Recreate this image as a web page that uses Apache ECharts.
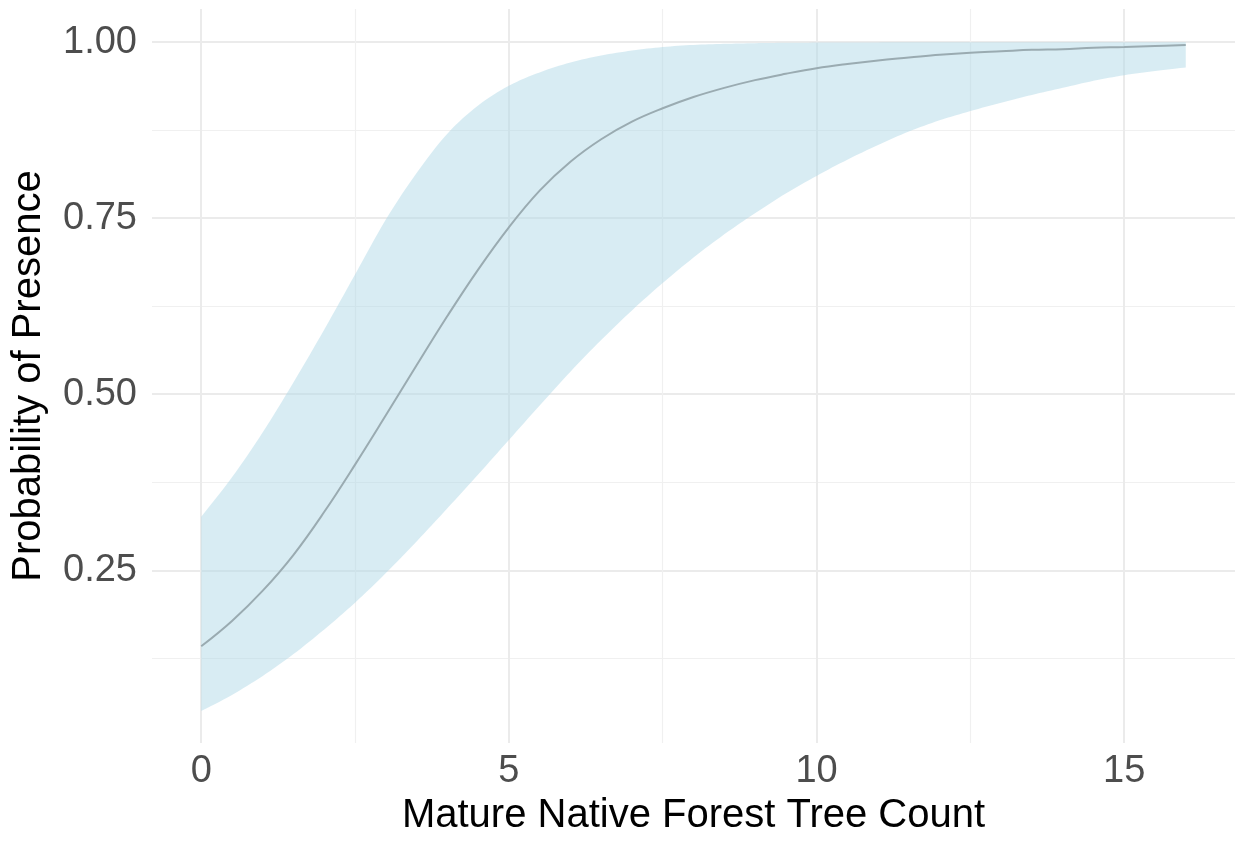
<!DOCTYPE html>
<html>
<head>
<meta charset="utf-8">
<script src="https://cdn.jsdelivr.net/npm/echarts@6/dist/echarts.min.js"></script>
<style>
html,body{margin:0;padding:0;background:#fff;}
#chart{width:1238px;height:841px;}
</style>
</head>
<body>
<div id="chart"></div>
<script>
// Data
const treeCount = [0,0.5,1,1.5,2,2.5,3,3.5,4,4.5,5,5.5,6,6.5,7,7.5,8,8.5,9,9.5,10,10.5,11,11.5,12,12.5,13,13.5,14,14.5,15,15.5,16];
const fitProb   = [0.142,0.178,0.221,0.272,0.333,0.400,0.470,0.541,0.611,0.677,0.737,0.789,0.830,0.862,0.887,0.906,0.922,0.935,0.946,0.955,0.963,0.969,0.974,0.978,0.982,0.985,0.987,0.989,0.990,0.992,0.993,0.9945,0.996];
const upperProb = [0.326,0.382,0.446,0.517,0.592,0.670,0.748,0.814,0.870,0.910,0.938,0.957,0.971,0.981,0.988,0.993,0.996,0.9975,0.9985,0.9990,0.9993,0.9995,0.9996,0.9997,0.9998,0.9998,0.9999,0.9999,0.9999,0.9999,0.9999,0.9999,0.9999];
const lowerProb = [0.050,0.073,0.100,0.131,0.166,0.204,0.246,0.291,0.338,0.386,0.435,0.484,0.532,0.577,0.619,0.658,0.694,0.727,0.757,0.785,0.810,0.833,0.854,0.873,0.889,0.902,0.914,0.925,0.935,0.945,0.953,0.959,0.964];

const xMajorTicks = [0,5,10,15];
const xMinorTicks = [2.5,7.5,12.5];
const yMajorTicks = [0.25,0.5,0.75,1.0];
const yMinorTicks = [0.125,0.375,0.625,0.875];

const xTitle = 'Mature Native Forest Tree Count';
const yTitle = 'Probability of Presence';

const FONT = 'Liberation Sans, Arial, Helvetica, sans-serif';

function spline(p) {
  const out = [];
  const n = p.length;
  for (let i = 0; i < n - 1; i++) {
    const p0 = p[i - 1] || p[i], p1 = p[i], p2 = p[i + 1], p3 = p[i + 2] || p[i + 1];
    for (let k = 0; k < 8; k++) {
      const t = k / 8, t2 = t * t, t3 = t2 * t;
      const f = (a, b, c, d) => 0.5 * (2 * b + (-a + c) * t + (2 * a - 5 * b + 4 * c - d) * t2 + (-a + 3 * b - 3 * c + d) * t3);
      out.push([f(p0[0], p1[0], p2[0], p3[0]), f(p0[1], p1[1], p2[1], p3[1])]);
    }
  }
  out.push(p[n - 1]);
  return out;
}

const chart = echarts.init(document.getElementById('chart'), null, {renderer: 'canvas'});

const commonX = {
  type: 'value', min: -0.8, max: 16.8,
  axisLine: {show: false}
};
const commonY = {
  type: 'value', min: 0.0047, max: 1.047,
  axisLine: {show: false}
};

chart.setOption({
  animation: false,
  backgroundColor: '#ffffff',
  grid: {left: 152, right: 3, top: 9, bottom: 98, containLabel: false, outerBoundsMode: 'none'},
  xAxis: [
    Object.assign({}, commonX, {
      axisTick: {show: false, customValues: xMajorTicks},
      axisLabel: {customValues: xMajorTicks, fontSize: 38, color: '#4d4d4d', fontFamily: FONT, margin: 10},
      splitLine: {show: true, lineStyle: {color: '#ebebeb', width: 2}},
      name: xTitle, nameLocation: 'middle', nameGap: 53,
      nameTextStyle: {fontSize: 40, color: '#000000', fontFamily: FONT}
    }),
    Object.assign({}, commonX, {
      axisTick: {show: false, customValues: xMinorTicks},
      axisLabel: {show: false, customValues: xMinorTicks},
      splitLine: {show: true, lineStyle: {color: '#f0f0f0', width: 1.2}}
    })
  ],
  yAxis: [
    Object.assign({}, commonY, {
      axisTick: {show: false, customValues: yMajorTicks},
      axisLabel: {customValues: yMajorTicks, fontSize: 38, color: '#4d4d4d', fontFamily: FONT, margin: 15,
        formatter: v => Number(v).toFixed(2)},
      splitLine: {show: true, lineStyle: {color: '#ebebeb', width: 2}},
      name: yTitle, nameLocation: 'middle', nameGap: 103, nameRotate: 90,
      nameTextStyle: {fontSize: 40, color: '#000000', fontFamily: FONT}
    }),
    Object.assign({}, commonY, {
      axisTick: {show: false, customValues: yMinorTicks},
      axisLabel: {show: false, customValues: yMinorTicks},
      splitLine: {show: true, lineStyle: {color: '#f0f0f0', width: 1.2}}
    })
  ],
  series: [
    {
      type: 'custom',
      name: 'ribbon',
      xAxisIndex: 0, yAxisIndex: 0,
      data: treeCount.map((x, i) => [x, lowerProb[i], upperProb[i]]),
      encode: {x: 0, y: [1, 2]},
      renderItem: function (params, api) {
        if (params.dataIndex !== 0) return {type: 'group', children: []};
        const up = treeCount.map((x, i) => api.coord([x, upperProb[i]]));
        const lo = treeCount.map((x, i) => api.coord([x, lowerProb[i]])).reverse();
        const pts = spline(up).concat(spline(lo));
        return {type: 'polygon', shape: {points: pts}, style: {fill: 'rgba(173,216,230,0.48)'}};
      },
      z: 1
    },
    {
      type: 'line',
      name: 'fit',
      xAxisIndex: 0, yAxisIndex: 0,
      data: treeCount.map((x, i) => [x, fitProb[i]]),
      smooth: 0.4,
      showSymbol: false,
      lineStyle: {color: '#9aabb1', width: 2},
      z: 2
    }
  ]
});
</script>
</body>
</html>
